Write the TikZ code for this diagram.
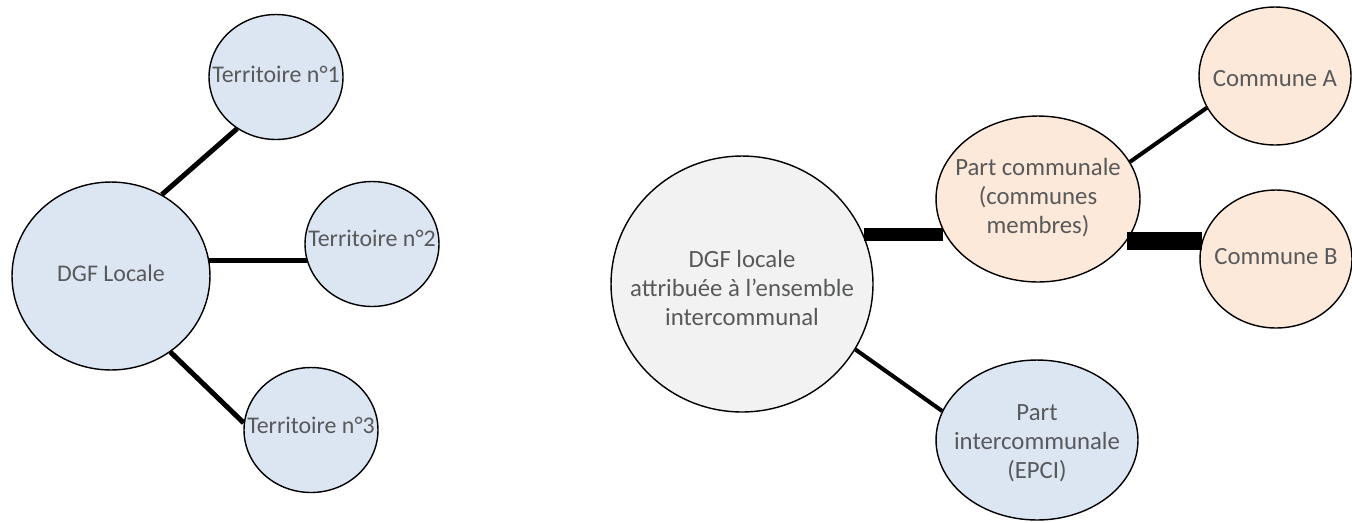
\documentclass[tikz,border=0pt]{standalone}
\usepackage{fontspec}
\setmainfont{Carlito}
\usetikzlibrary{shapes.geometric}
\definecolor{bulleblue}{HTML}{DCE6F2}
\definecolor{bullepeach}{HTML}{FDE9D9}
\definecolor{bullegrey}{HTML}{F2F2F2}
\definecolor{textgrey}{HTML}{58595B}
\newcommand\bulletext[2][0pt]{\raisebox{#1}[\height][\depth]{\makebox[0pt]{\begin{tabular}{@{}c@{}}#2\end{tabular}}}}
\tikzset{
  bulle/.style={ellipse, draw=black, line width=0.8pt, inner sep=0pt, text=textgrey},
  petit/.style={font=\fontsize{13.6}{16}\selectfont},
  grand/.style={font=\fontsize{14.1}{16.5}\selectfont}
}

\begin{document}
\begin{tikzpicture}[x=0.02cm, y=-0.02cm]
		%%%%% START %%%%%
		\useasboundingbox (0, 0) rectangle (1352, 522);
		
		% left: DGF locale and its territories
		\node[bulle, petit, fill=bulleblue, minimum width=3.96cm, minimum height=3.76cm] (dgf) at (111, 276) {\bulletext{DGF Locale}};
		\node[bulle, petit, fill=bulleblue, minimum width=2.68cm, minimum height=2.5cm] (terr1) at (276, 77) {\bulletext{Territoire n°1}};
		\node[bulle, petit, fill=bulleblue, minimum width=2.68cm, minimum height=2.5cm] (terr2) at (372, 244) {\bulletext[2pt]{Territoire n°2}};
		\node[bulle, petit, fill=bulleblue, minimum width=2.68cm, minimum height=2.5cm] (terr3) at (311, 430) {\bulletext[1.5pt]{Territoire n°3}};
		
		\draw[line width=2.85pt] (dgf.58) -- (terr1.233);
		\draw[line width=2.85pt] (dgf.9) -- (dgf.9 -| terr2.194);
		\draw[line width=2.85pt] (dgf.308) -- (terr3.174);
		
		% right: intercommunal DGF
		\node[bulle, grand, fill=bullegrey, minimum width=5.24cm, minimum height=5.12cm] (dgfi) at (742, 284) {\bulletext[-4pt]{DGF locale\\attribuée à l’ensemble\\intercommunal}};
		\node[bulle, grand, fill=bullepeach, minimum width=4.08cm, minimum height=3.32cm] (pcom) at (1038, 199) {\bulletext{Part communale\\(communes\\membres)}};
		\node[bulle, grand, fill=bullepeach, minimum width=3.04cm, minimum height=2.76cm] (comA) at (1275, 76) {\bulletext[-2.8pt]{Commune A}};
		\node[bulle, grand, fill=bullepeach, minimum width=3.04cm, minimum height=2.76cm] (comB) at (1276, 259) {\bulletext{Commune B}};
		\node[bulle, grand, fill=bulleblue, minimum width=4.04cm, minimum height=3.2cm] (epci) at (1037, 440) {\bulletext[-2pt]{Part\\intercommunale\\(EPCI)}};
		
		\draw[line width=7.4pt] (dgfi.22.5) -- (dgfi.22.5 -| pcom.199.7);
		\draw[line width=2.3pt] (pcom.22.3) -- (comA.205.2);
		\draw[line width=10.2pt] (pcom.335) -- (pcom.335 -| comB.166.7);
		\draw[line width=2.3pt] (dgfi.330.9) -- (epci.163.1);
		
		%%%%% END %%%%%
	\end{tikzpicture}
\end{document}
